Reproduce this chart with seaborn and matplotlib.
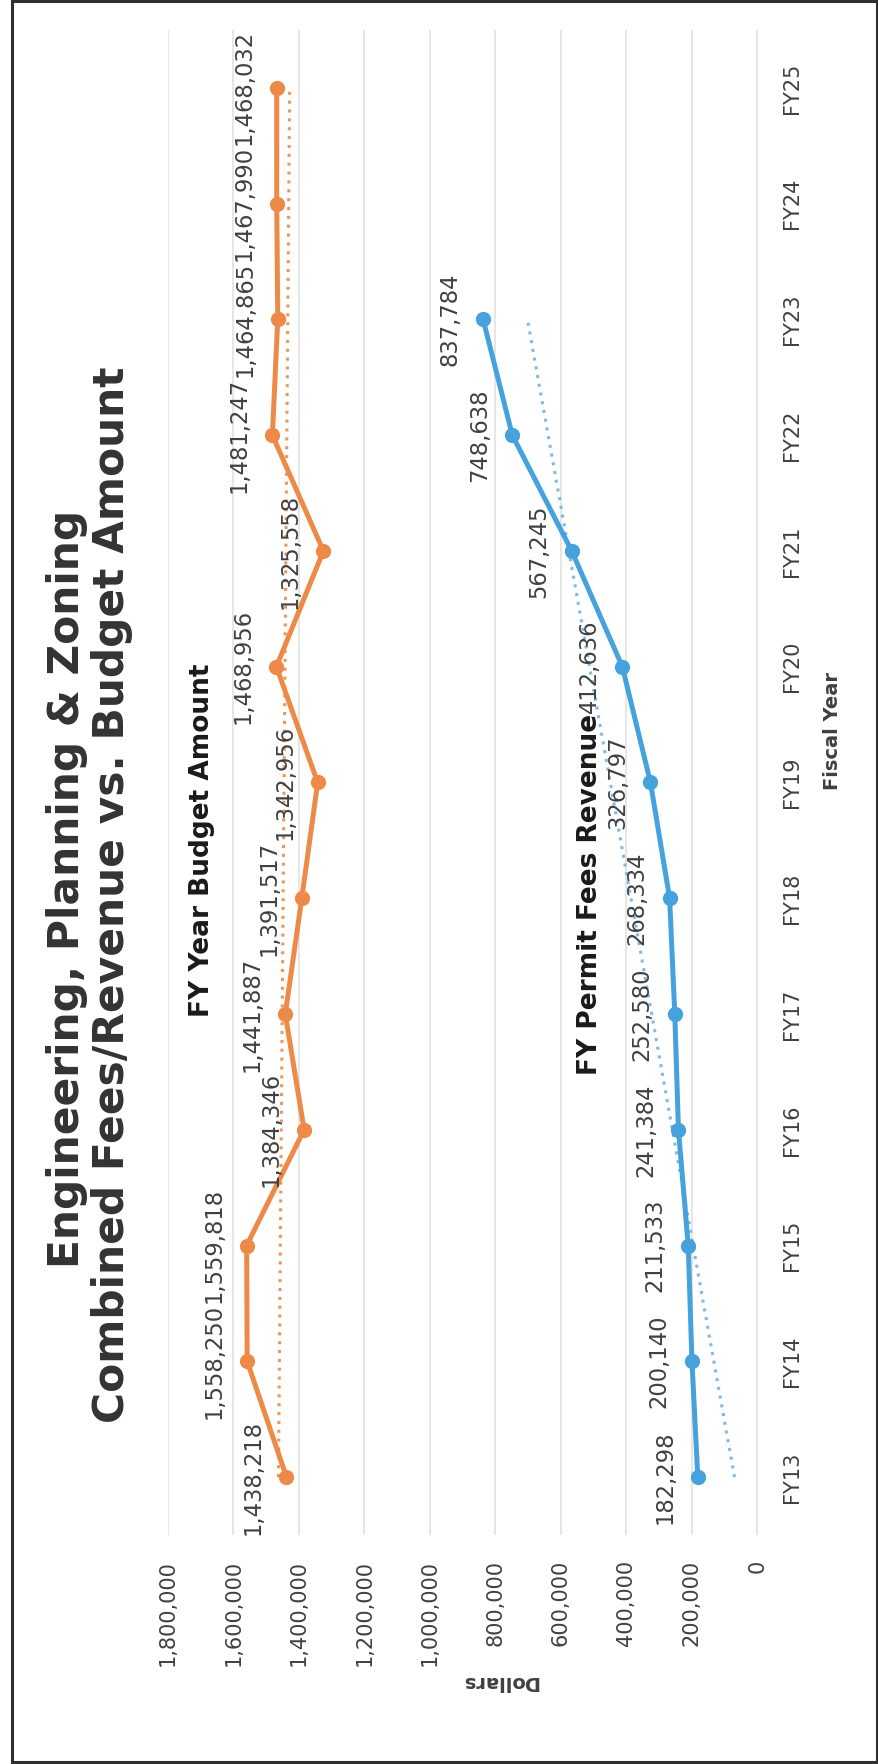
import numpy as np
import pandas as pd
import matplotlib
matplotlib.use("Agg")
import matplotlib.pyplot as plt
from matplotlib.patches import Rectangle
import seaborn as sns

# ---- data -------------------------------------------------------------
fiscal_years = ["FY13", "FY14", "FY15", "FY16", "FY17", "FY18", "FY19",
                "FY20", "FY21", "FY22", "FY23", "FY24", "FY25"]
budget_amount = [1438218, 1558250, 1559818, 1384346, 1441887, 1391517,
                 1342956, 1468956, 1325558, 1481247, 1464865, 1467990,
                 1468032]
permit_revenue = [182298, 200140, 211533, 241384, 252580, 268334, 326797,
                  412636, 567245, 748638, 837784]
dollar_ticks = [0, 200000, 400000, 600000, 800000, 1000000, 1200000,
                1400000, 1600000, 1800000]

title_lines = ["Engineering, Planning & Zoning",
               "Combined Fees/Revenue vs. Budget Amount"]
budget_name = "FY Year Budget Amount"
permit_name = "FY Permit Fees Revenue"

ORANGE = "#EE8A47"
BLUE = "#45A2DC"
TEXT = "#404040"

W, H = 879, 1764
DPI = 100

sns.set_theme(style="white")
plt.rcParams["font.family"] = ["DejaVu Sans"]

fig = plt.figure(figsize=(W / DPI, H / DPI), dpi=DPI)


def fx(px):
    return px / W


def fy(py):
    return 1 - py / H


# plot area (the chart is laid out sideways: years run bottom -> top,
# dollars run right -> left)
left, right, top, bottom = 168, 757.5, 30, 1535
ax = fig.add_axes([fx(left), fy(bottom), fx(right) - fx(left),
                   (bottom - top) / H])

pos_b = np.arange(len(budget_amount))
pos_p = np.arange(len(permit_revenue))
df_b = pd.DataFrame({"value": budget_amount, "pos": pos_b})
df_p = pd.DataFrame({"value": permit_revenue, "pos": pos_p})

# gridlines
for t in dollar_ticks:
    ax.axvline(t, color="#E4E4E4", lw=1.3, zorder=0)

# linear trend lines
for pos, vals, col in [(pos_b, budget_amount, ORANGE),
                       (pos_p, permit_revenue, "#6FB4E2")]:
    k, b = np.polyfit(pos, vals, 1)
    trend = pd.DataFrame({"value": k * pos + b, "pos": pos})
    sns.lineplot(data=trend, x="value", y="pos", orient="y", ax=ax,
                 color=col, lw=2.2, linestyle=(0, (1, 1.9)), zorder=2,
                 alpha=0.9)

# series lines
sns.lineplot(data=df_b, x="value", y="pos", orient="y", ax=ax,
             color=ORANGE, lw=3.6, marker="o", markersize=11,
             markeredgewidth=0, zorder=3)
sns.lineplot(data=df_p, x="value", y="pos", orient="y", ax=ax,
             color=BLUE, lw=3.6, marker="o", markersize=11,
             markeredgewidth=0, zorder=3)

# data labels
off = -33 * 72 / DPI
for vals, pos in [(budget_amount, pos_b), (permit_revenue, pos_p)]:
    for v, p in zip(vals, pos):
        ax.annotate(f"{v:,}", (v, p), xytext=(off, 0),
                    textcoords="offset points", rotation=90,
                    ha="center", va="center", fontsize=16.3, color=TEXT,
                    zorder=4)

ax.set_xlim(1800000, 0)
ax.set_ylim(-0.5, len(fiscal_years) - 0.5)
ax.set_xticks(dollar_ticks)
ax.set_xticklabels([f"{t:,}" for t in dollar_ticks], rotation=90,
                   fontsize=15, color=TEXT)
ax.set_yticks(range(len(fiscal_years)))
ax.set_yticklabels(fiscal_years, rotation=90, fontsize=15, color=TEXT,
                   va="center")
ax.yaxis.tick_right()
ax.tick_params(axis="x", length=0, pad=25 * 72 / DPI)
ax.tick_params(axis="y", length=0, pad=24 * 72 / DPI)
ax.set_xlabel("")
ax.set_ylabel("")
for s in ax.spines.values():
    s.set_visible(False)
ax.set_facecolor("none")

# titles and axis names
fig.text(fx(67), fy(889), title_lines[0], rotation=90, ha="center",
         va="center", fontsize=30.5, fontweight="bold", color="#333333")
fig.text(fx(112), fy(895), title_lines[1], rotation=90, ha="center",
         va="center", fontsize=30.5, fontweight="bold", color="#333333")
fig.text(fx(202), fy(840), budget_name, rotation=90, ha="center",
         va="center", fontsize=19, fontweight="bold", color="#1a1a1a")
fig.text(fx(590), fy(894), permit_name, rotation=90, ha="center",
         va="center", fontsize=19, fontweight="bold", color="#1a1a1a")
fig.text(fx(833), fy(731), "Fiscal Year", rotation=90, ha="center",
         va="center", fontsize=14, fontweight="bold", color=TEXT)
fig.text(fx(500), fy(1682), "Dollars", rotation=180, ha="center",
         va="center", fontsize=14, fontweight="bold", color=TEXT)

# chart frame
fig.patches.append(Rectangle((fx(12), fy(1762)), fx(877) - fx(12),
                             (1762 - 1) / H, transform=fig.transFigure,
                             fill=False, edgecolor="#2e2e2e", lw=2.2))

fig.savefig("out.png", dpi=DPI, facecolor="white")
